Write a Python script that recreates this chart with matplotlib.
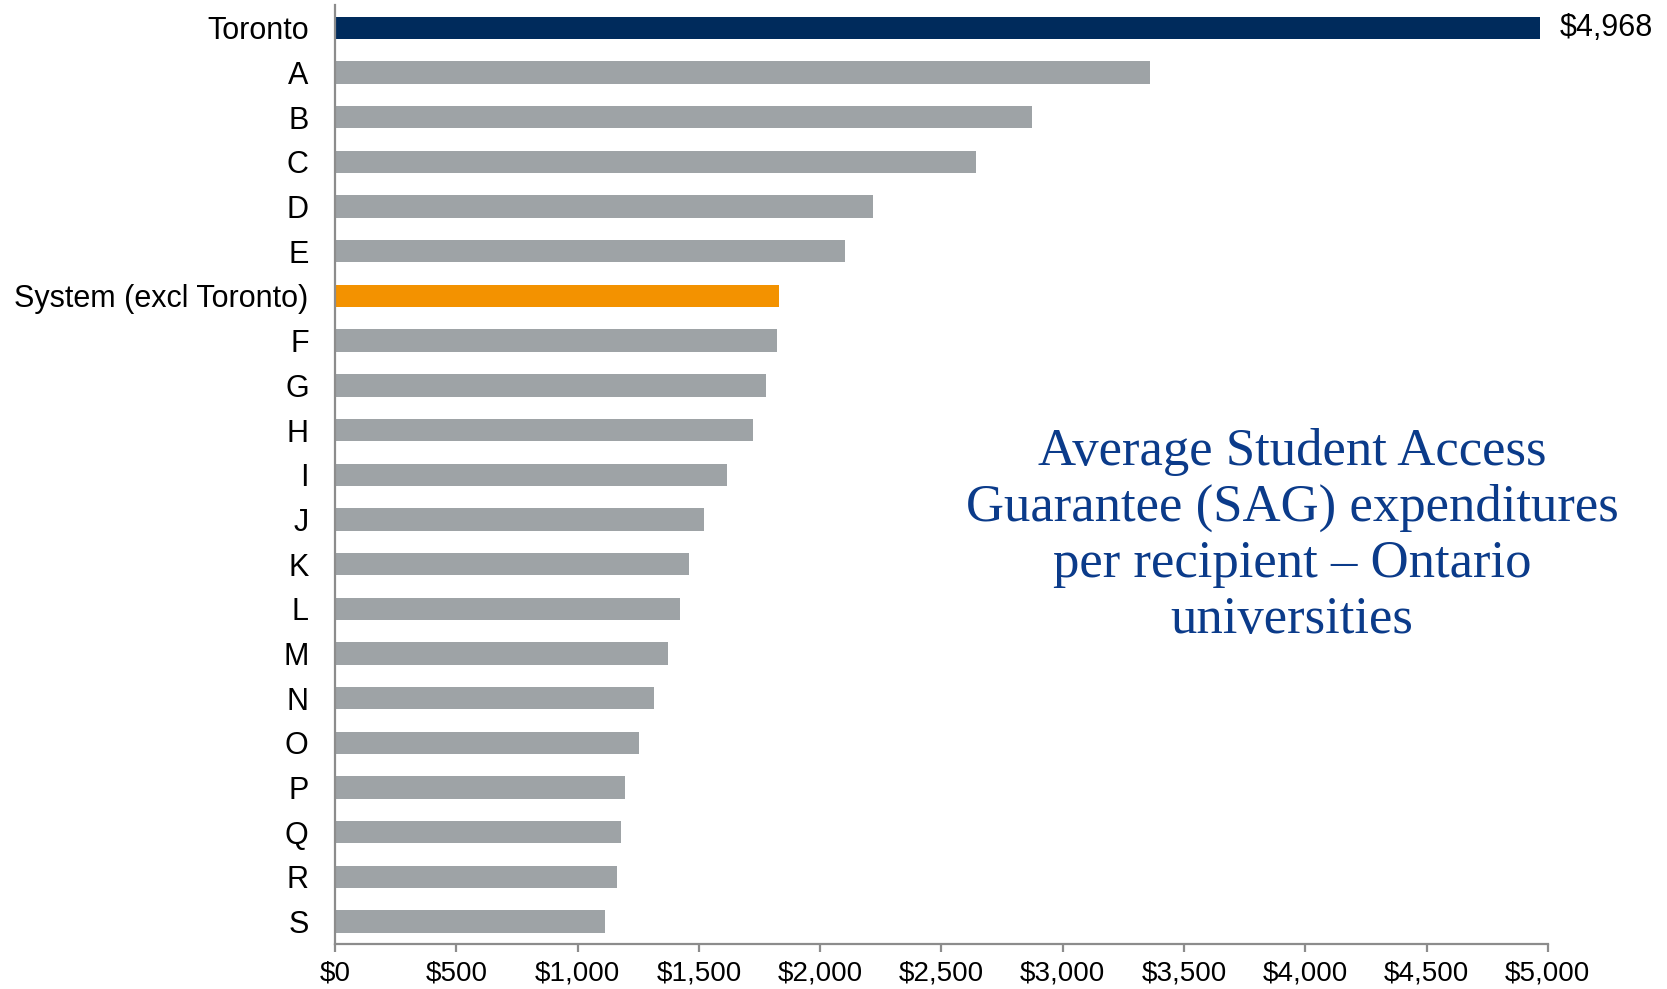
import matplotlib
matplotlib.use("Agg")
import matplotlib.pyplot as plt
from matplotlib.ticker import FuncFormatter

categories = ["Toronto", "A", "B", "C", "D", "E", "System (excl Toronto)", "F", "G", "H",
              "I", "J", "K", "L", "M", "N", "O", "P", "Q", "R", "S"]
values = [4968, 3361, 2875, 2642, 2217, 2103, 1832, 1823, 1775, 1722,
          1617, 1521, 1459, 1424, 1372, 1315, 1253, 1196, 1179, 1161, 1113]
colors = ["#002B5C"] + ["#9EA3A6"] * 5 + ["#F39200"] + ["#9EA3A6"] * 14
xticks = [0, 500, 1000, 1500, 2000, 2500, 3000, 3500, 4000, 4500, 5000]
title = "Average Student Access\nGuarantee (SAG) expenditures\nper recipient \u2013 Ontario\nuniversities"

plt.rcParams['font.family'] = ['Liberation Sans', 'DejaVu Sans']

fig = plt.figure(figsize=(16.67, 9.89), dpi=100)
ax = fig.add_axes([0.201, 0.0455, 0.7275, 0.949])

ypos = list(range(len(categories)))
ax.barh(ypos, values, height=0.5, color=colors)
ax.set_ylim(len(categories) - 0.5, -0.5)
ax.set_xlim(0, 5000)
ax.set_yticks(ypos)
ax.set_yticklabels(categories)
ax.set_xticks(xticks)
ax.xaxis.set_major_formatter(FuncFormatter(lambda v, p: "${:,.0f}".format(v)))

for s in ["top", "right"]:
    ax.spines[s].set_visible(False)
for s in ["left", "bottom"]:
    ax.spines[s].set_color("#8C8C8C")
    ax.spines[s].set_linewidth(1.6)

ax.tick_params(axis="y", length=0, pad=19, labelsize=22)
ax.tick_params(axis="x", length=6, width=1.6, color="#8C8C8C", pad=6, labelsize=20)

ax.text(values[0] + 80, 0, "${:,.0f}".format(values[0]), va="center", ha="left",
        fontsize=22, clip_on=False)

fig.text(0.775, 0.458, title, ha="center", va="center", fontsize=38,
         family="Liberation Serif", color="#0B3B8A", linespacing=1.22)

fig.savefig("out.png", dpi=100)
